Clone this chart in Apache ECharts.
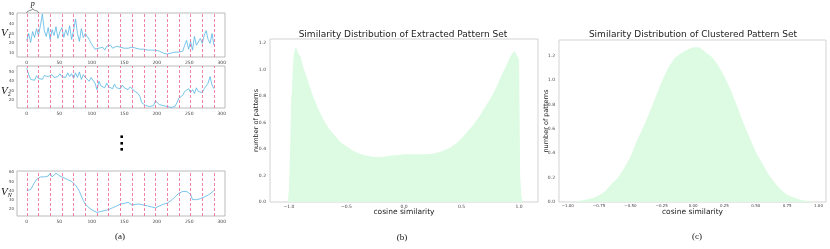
<!DOCTYPE html>
<html><head><meta charset="utf-8">
<script src="https://cdn.jsdelivr.net/npm/echarts@6/dist/echarts.min.js"></script>
<style>html,body{margin:0;padding:0;background:#fff}#c{width:830px;height:249px}</style>
</head><body><div id="c"></div>
<script>
// ---- Panel (a): time series ----
const timeSteps = [0,3,6,9,12,15,18,21,24,27,30,33,36,39,42,45,48,51,54,57,60,63,66,69,72,75,78,81,84,87,90,93,96,99,102,105,108,111,114,117,120,123,126,129,132,135,138,141,144,147,150,153,156,159,162,165,168,171,174,177,180,183,186,189,192,195,198,201,204,207,210,213,216,219,222,225,228,231,234,237,240,243,246,249,252,255,258,261,264,267,270,273,276,279,282,285,288];
const seriesV1 = [23,30,21,32,26,35,28,38,50,33,27,36,24,34,28,37,25,32,36,26,34,28,38,24,33,45,30,22,35,26,30,27,24,20,17,14,13,15,14,16,13,17,15,18,15,16,17,15,16,16,15,16,15,16,16,15,15,15,14,15,14,14,13,14,13,13,13,12,12,11,10,10,9,9,10,9,11,12,11,13,12,18,23,14,22,13,27,18,16,25,20,28,33,24,20,30,18];
const seriesV2 = [54,47,42,44,41,46,43,45,42,46,44,45,43,47,44,46,45,48,45,47,44,49,45,48,43,49,44,50,42,47,44,46,40,44,42,38,31,40,35,37,33,38,34,36,32,37,33,35,32,36,33,35,31,34,32,30,32,27,24,17,15,14,16,13,15,14,19,21,15,17,14,16,13,15,12,14,13,17,22,20,25,29,27,32,28,31,27,33,29,31,28,32,30,38,45,36,32];
const seriesVN = [40,40,41,45,49,52,54,55,54,55,54,56,59,55,57,59,57,56,55,54,53,52,51,50,48,46,43,39,34,29,25,23,21,19,18,17,16,16,17,16,18,18,19,20,21,22,23,24,25,25,26,27,27,26,24,25,25,24,25,25,24,24,23,22,22,21,21,22,23,24,25,25,26,27,29,31,33,35,37,38,39,41,39,40,36,30,29,30,31,31,32,33,34,35,37,38,40];
const segmentLines = [0,18,36,54,72,90,108,126,144,162,180,198,216,234,252,270,288];
const timeTicks = [0,50,100,150,200,250,300];
const v1Ticks = [10,20,30,40,50];
const v2Ticks = [20,30,40,50];
const vNTicks = [20,30,40,50,60];

// ---- Panel (b): extracted pattern similarity ----
const simBX = [-1.01,-1.0,-0.99,-0.98,-0.975,-0.97,-0.96,-0.95,-0.94,-0.93,-0.92,-0.9,-0.88,-0.85,-0.8,-0.75,-0.7,-0.65,-0.6,-0.55,-0.5,-0.45,-0.4,-0.35,-0.3,-0.25,-0.2,-0.15,-0.1,-0.05,0,0.05,0.1,0.15,0.2,0.25,0.3,0.35,0.4,0.45,0.5,0.55,0.6,0.65,0.7,0.75,0.8,0.85,0.9,0.92,0.94,0.95,0.96,0.97,0.98,0.99,1.0,1.01,1.02,1.03];
const simBY = [0,0.1,0.4,0.8,0.82,0.95,1.1,1.15,1.17,1.15,1.12,1.1,1.03,0.95,0.82,0.71,0.62,0.55,0.5,0.45,0.42,0.39,0.37,0.355,0.345,0.34,0.34,0.345,0.35,0.355,0.36,0.36,0.36,0.36,0.36,0.365,0.375,0.39,0.41,0.44,0.48,0.53,0.58,0.64,0.71,0.78,0.86,0.96,1.05,1.09,1.12,1.13,1.14,1.13,1.11,1.1,1.08,0.2,0.05,0];
const simBXTicks = [-1,-0.5,0,0.5,1];
const simBYTicks = [0,0.2,0.4,0.6,0.8,1.0,1.2];

// ---- Panel (c): clustered pattern similarity ----
const simCX = [-1.0,-0.95,-0.9,-0.85,-0.8,-0.75,-0.7,-0.65,-0.6,-0.55,-0.5,-0.45,-0.4,-0.35,-0.3,-0.25,-0.2,-0.15,-0.1,-0.05,0,0.05,0.1,0.15,0.2,0.25,0.3,0.35,0.4,0.45,0.5,0.55,0.6,0.65,0.7,0.75,0.8,0.85,0.9,0.95,1.0];
const simCY = [0,0.003,0.01,0.02,0.032,0.055,0.09,0.15,0.2,0.28,0.37,0.5,0.61,0.73,0.86,0.99,1.1,1.18,1.22,1.25,1.27,1.27,1.23,1.19,1.12,1.03,0.92,0.79,0.65,0.53,0.41,0.32,0.23,0.16,0.1,0.06,0.04,0.02,0.01,0.004,0];
const simCXTicks = [-1,-0.75,-0.5,-0.25,0,0.25,0.5,0.75,1];
const simCYTicks = [0,0.2,0.4,0.6,0.8,1.0,1.2];

const chart = echarts.init(document.getElementById('c'), null, {renderer:'canvas'});
const zip = (a,b) => a.map((x,i)=>[x,b[i]]);
const mpl = (v,d) => (v<0?'\u2212':'') + Math.abs(v).toFixed(d);
const tickFont = {fontSize:4.5, color:'#444', fontFamily:'DejaVu Sans'};
const frame = {show:true, borderColor:'#c8c8c8', borderWidth:0.8, backgroundColor:'transparent'};

function tsX(gi){return {type:'value', gridIndex:gi, min:-15, max:305, splitLine:{show:false}, axisLine:{show:false}, axisTick:{show:false},
  axisLabel:Object.assign({customValues:timeTicks, margin:3}, tickFont)};}
function tsY(gi,mn,mx,ticks){return {type:'value', gridIndex:gi, min:mn, max:mx, splitLine:{show:false}, axisLine:{show:false}, axisTick:{show:false},
  axisLabel:Object.assign({customValues:ticks, margin:3, hideOverlap:false}, tickFont, {fontSize:4})};}
function tsSeries(gi,vals){return {type:'line', xAxisIndex:gi, yAxisIndex:gi, data:zip(timeSteps,vals), showSymbol:false, animation:false,
  lineStyle:{color:'#55b5e4', width:0.8},
  markLine:{silent:true, symbol:'none', animation:false, label:{show:false},
    lineStyle:{color:'#ee5a8f', type:[3,2], width:0.9, opacity:0.85},
    data:segmentLines.map(x=>({xAxis:x}))}};}

const vRich = {v:{fontSize:11, fontStyle:'italic', fontFamily:'Liberation Serif', fill:'#111'}, s:{fontSize:6, fontFamily:'Liberation Serif', fill:'#111', padding:[6,0,0,0]}, n:{fontSize:6, fontStyle:'italic', fontFamily:'Liberation Serif', fill:'#111', padding:[6,0,0,0]}};
const nameStyleX = {fontSize:7.5, color:'#222', fontFamily:'DejaVu Sans'};
const nameStyleY = {fontSize:6.5, color:'#222', fontFamily:'DejaVu Sans'};

const option = {
  animation:false,
  grid:[
    Object.assign({left:17, top:13, width:208, height:44}, frame, {borderColor:'#aaa'}),
    Object.assign({left:17, top:66, width:208, height:42}, frame, {borderColor:'#aaa'}),
    Object.assign({left:17, top:171, width:208, height:45}, frame, {borderColor:'#aaa'}),
    Object.assign({left:270, top:39, width:268, height:163}, frame),
    Object.assign({left:559, top:40, width:267, height:162}, frame)
  ],
  xAxis:[
    tsX(0), tsX(1), tsX(2),
    {type:'value', gridIndex:3, min:-1.165, max:1.165, splitLine:{show:false}, axisLine:{show:false}, axisTick:{show:false},
      axisLabel:Object.assign({customValues:simBXTicks, margin:2, formatter:v=>mpl(v,1)}, tickFont),
      name:'cosine similarity', nameLocation:'middle', nameGap:6, nameMoveOverlap:false, nameTextStyle:nameStyleX},
    {type:'value', gridIndex:4, min:-1.07, max:1.06, splitLine:{show:false}, axisLine:{show:false}, axisTick:{show:false},
      axisLabel:Object.assign({customValues:simCXTicks, margin:2, formatter:v=>mpl(v,2)}, tickFont, {fontSize:4}),
      name:'cosine similarity', nameLocation:'middle', nameGap:6, nameMoveOverlap:false, nameTextStyle:nameStyleX}
  ],
  yAxis:[
    tsY(0,6,51,v1Ticks), tsY(1,11.4,56.3,v2Ticks), tsY(2,12,61.5,vNTicks),
    {type:'value', gridIndex:3, min:0, max:1.23, splitLine:{show:false}, axisLine:{show:false}, axisTick:{show:false},
      axisLabel:Object.assign({customValues:simBYTicks, margin:4, formatter:v=>v.toFixed(1)}, tickFont),
      name:'number of patterns', nameLocation:'middle', nameGap:10, nameMoveOverlap:false, nameTextStyle:nameStyleY},
    {type:'value', gridIndex:4, min:0, max:1.33, splitLine:{show:false}, axisLine:{show:false}, axisTick:{show:false},
      axisLabel:Object.assign({customValues:simCYTicks, margin:4, formatter:v=>v.toFixed(1)}, tickFont),
      name:'number of patterns', nameLocation:'middle', nameGap:9, nameMoveOverlap:false, nameTextStyle:nameStyleY}
  ],
  series:[
    tsSeries(0,seriesV1), tsSeries(1,seriesV2), tsSeries(2,seriesVN),
    {type:'line', xAxisIndex:3, yAxisIndex:3, data:zip(simBX,simBY), showSymbol:false, lineStyle:{width:0}, areaStyle:{color:'#ddfbe3', opacity:1}, z:1},
    {type:'line', xAxisIndex:4, yAxisIndex:4, data:zip(simCX,simCY), showSymbol:false, lineStyle:{width:0}, areaStyle:{color:'#ddfbe3', opacity:1}, z:1}
  ],
  graphic:[
    {type:'text', x:403, y:35, style:{text:'Similarity Distribution of Extracted Pattern Set', fontSize:9, fontFamily:'DejaVu Sans', fill:'#222', align:'center', verticalAlign:'middle'}},
    {type:'text', x:693, y:35, style:{text:'Similarity Distribution of Clustered Pattern Set', fontSize:9, fontFamily:'DejaVu Sans', fill:'#222', align:'center', verticalAlign:'middle'}},
    {type:'text', x:120, y:237, style:{text:'(a)', fontSize:9, fontFamily:'Liberation Serif', fill:'#111', align:'center', verticalAlign:'middle'}},
    {type:'text', x:402, y:238, style:{text:'(b)', fontSize:9, fontFamily:'Liberation Serif', fill:'#111', align:'center', verticalAlign:'middle'}},
    {type:'text', x:697, y:237, style:{text:'(c)', fontSize:9, fontFamily:'Liberation Serif', fill:'#111', align:'center', verticalAlign:'middle'}},
    {type:'text', x:1, y:27, style:{text:'{v|V}{s|1}', rich:vRich}},
    {type:'text', x:1, y:85, style:{text:'{v|V}{s|2}', rich:vRich}},
    {type:'text', x:1, y:186, style:{text:'{v|V}{n|N}', rich:vRich}},
    {type:'text', x:32.7, y:4, style:{text:'p', fontSize:8, fontStyle:'italic', fontFamily:'Liberation Serif', fill:'#111', align:'center', verticalAlign:'middle'}},
    {type:'bezierCurve', shape:{x1:26.7, y1:13, x2:32.7, y2:8.6, cpx1:26.7, cpy1:10.2, cpx2:32.7, cpy2:10.8}, style:{fill:null, stroke:'#333', lineWidth:0.6}},
    {type:'bezierCurve', shape:{x1:38.7, y1:13, x2:32.7, y2:8.6, cpx1:38.7, cpy1:10.2, cpx2:32.7, cpy2:10.8}, style:{fill:null, stroke:'#333', lineWidth:0.6}},
    {type:'rect', shape:{x:120.4, y:135.4, width:2.6, height:2.6}, style:{fill:'#000'}},
    {type:'rect', shape:{x:120.4, y:142, width:2.6, height:2.6}, style:{fill:'#000'}},
    {type:'rect', shape:{x:120.4, y:148, width:2.6, height:2.6}, style:{fill:'#000'}}
  ]
};
chart.setOption(option);
</script></body></html>
